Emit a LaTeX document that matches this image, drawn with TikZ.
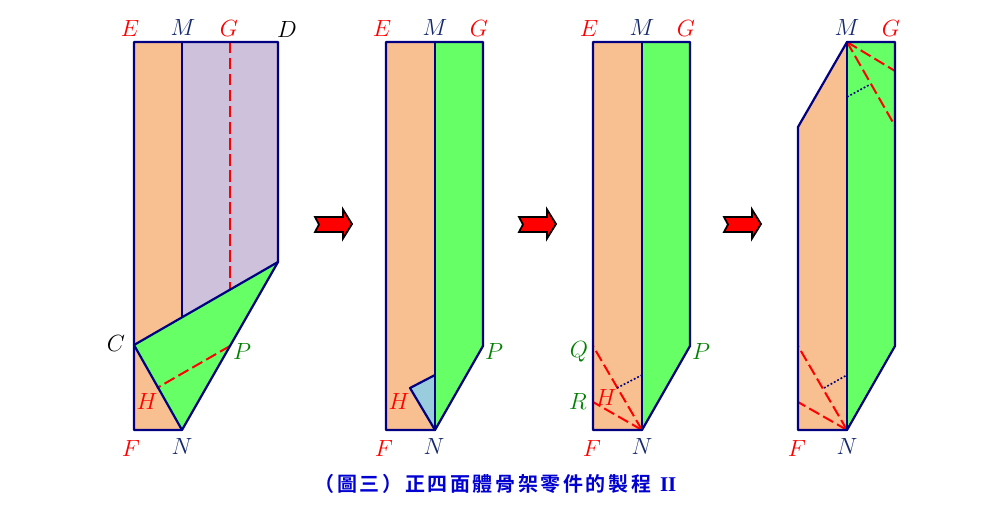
\documentclass[tikz,border=0pt]{standalone}
\usepackage{fontspec}
\usepackage{graphicx}
\newfontfamily\capfont[LetterSpace=13,BoldFont={Noto Sans CJK TC Bold}]{Noto Sans CJK TC}
\newfontfamily\capser{Liberation Serif}
\newcommand\lbl[1]{\scalebox{1.13}{$#1$}}
\definecolor{orfill}{HTML}{F8C090}
\definecolor{pufill}{HTML}{CDC1DC}
\definecolor{grfill}{HTML}{66FF66}
\definecolor{blfill}{HTML}{99CCDD}
\definecolor{navyl}{HTML}{000080}
\definecolor{labnavy}{HTML}{14286E}
\definecolor{labgreen}{HTML}{008000}
\definecolor{capblue}{HTML}{0000D0}
\tikzset{
  edgeline/.style={draw=navyl,line width=2.2pt,line join=round,line cap=round},
  foldline/.style={draw=red,line width=2pt,dash pattern=on 11.5pt off 4.5pt},
  hidline/.style={draw=navyl,line width=1.6pt,dash pattern=on 1.8pt off 2pt},
  lab/.style={inner sep=0pt,font=\fontsize{20}{24}\selectfont},
  labred/.style={lab,text=red},
  labblue/.style={lab,text=labnavy},
  labblack/.style={lab,text=black},
  labgr/.style={lab,text=labgreen},
  blockarrow/.style={draw=black,fill=red,line width=1.8pt,line join=miter}
}
\begin{document}
\begin{tikzpicture}[x=1pt,y=-1pt]
\useasboundingbox (0,0) rectangle (1000,508);
% ---- panel 1
\coordinate (aE) at (134,42); \coordinate (aM) at (182,42); \coordinate (aG) at (230,42); \coordinate (aD) at (278,42);
\coordinate (aF) at (134,430); \coordinate (aN) at (182,430); \coordinate (aC) at (134,345);
\coordinate (aK) at (278,262); \coordinate (aL) at (182,317); \coordinate (aP) at (230,346);
\coordinate (aH) at (157,388); \coordinate (aT) at (230,290);
\fill[orfill] (aE)--(aM)--(aL)--(aC)--cycle;
\fill[orfill] (aC)--(aN)--(aF)--cycle;
\fill[pufill] (aM)--(aD)--(aK)--(aL)--cycle;
\fill[grfill] (aC)--(aK)--(aN)--cycle;
\draw[foldline] (aG)--(aT);
\draw[foldline] (aP)--(aH);
\draw[edgeline] (aE)--(aD)--(aK)--(aN)--(aF)--cycle;
\draw[edgeline] (aM)--(aL);
\draw[edgeline] (aC)--(aK);
\draw[edgeline] (aC)--(aN);
\node[labred] at (130,28) {\lbl{E}};
\node[labblue] at (183,27) {\lbl{M}};
\node[labred] at (229,28) {\lbl{G}};
\node[labblack] at (287,29) {\lbl{D}};
\node[labblack] at (116,343) {\lbl{C}};
\node[labgr] at (242,351) {\lbl{P}};
\node[labred] at (147,401) {\lbl{H}};
\node[labred] at (131,448) {\lbl{F}};
\node[labblue] at (182,446) {\lbl{N}};
% ---- panel 2
\coordinate (bE) at (386,42); \coordinate (bM) at (435,42); \coordinate (bG) at (483,42);
\coordinate (bP) at (483,346); \coordinate (bN) at (435,430); \coordinate (bF) at (386,430);
\coordinate (bH) at (410,388); \coordinate (bT) at (435,375);
\fill[orfill] (bE)--(bM)--(bN)--(bF)--cycle;
\fill[grfill] (bM)--(bG)--(bP)--(bN)--cycle;
\fill[blfill] (bH)--(bT)--(bN)--cycle;
\draw[edgeline] (bE)--(bG)--(bP)--(bN)--(bF)--cycle;
\draw[edgeline] (bM)--(bN);
\draw[edgeline] (bT)--(bH)--(bN);
\node[labred] at (382,28) {\lbl{E}};
\node[labblue] at (435,27) {\lbl{M}};
\node[labred] at (479,28) {\lbl{G}};
\node[labgr] at (494,351) {\lbl{P}};
\node[labred] at (399,401) {\lbl{H}};
\node[labred] at (384,448) {\lbl{F}};
\node[labblue] at (434,446) {\lbl{N}};
% ---- panel 3
\coordinate (cE) at (593,42); \coordinate (cM) at (642,42); \coordinate (cG) at (690,42);
\coordinate (cP) at (690,346); \coordinate (cN) at (642,430); \coordinate (cF) at (593,430);
\coordinate (cQ) at (593,346); \coordinate (cR) at (593,402);
\coordinate (cH) at (617,388); \coordinate (cT) at (642,375);
\fill[orfill] (cE)--(cM)--(cN)--(cF)--cycle;
\fill[grfill] (cM)--(cG)--(cP)--(cN)--cycle;
\draw[foldline] (cN)--(cQ);
\draw[foldline] (cN)--(cR);
\draw[hidline] (cH)--(cT);
\draw[edgeline] (cE)--(cG)--(cP)--(cN)--(cF)--cycle;
\draw[edgeline] (cM)--(cN);
\node[labred] at (589,28) {\lbl{E}};
\node[labblue] at (642,27) {\lbl{M}};
\node[labred] at (686,28) {\lbl{G}};
\node[labgr] at (701,351) {\lbl{P}};
\node[labgr] at (579,352) {\lbl{Q}};
\node[labgr] at (578,401) {\lbl{R}};
\node[labred] at (606,397) {\lbl{H}};
\node[labred] at (592,448) {\lbl{F}};
\node[labblue] at (642,446) {\lbl{N}};
% ---- panel 4
\coordinate (dM) at (847,42); \coordinate (dG) at (895,42); \coordinate (dA) at (798,127);
\coordinate (dF) at (798,430); \coordinate (dN) at (847,430); \coordinate (dP) at (895,346);
\coordinate (dU) at (895,71); \coordinate (dV) at (895,126);
\coordinate (dW) at (847,97); \coordinate (dX) at (869,85);
\coordinate (dQ) at (798,346); \coordinate (dR) at (798,402);
\coordinate (dH) at (824,388); \coordinate (dT) at (847,375);
\fill[orfill] (dM)--(dN)--(dF)--(dA)--cycle;
\fill[grfill] (dM)--(dG)--(dP)--(dN)--cycle;
\draw[foldline] (dM)--(dU);
\draw[foldline] (dM)--(dV);
\draw[foldline] (dN)--(dQ);
\draw[foldline] (dN)--(dR);
\draw[hidline] (dW)--(dX);
\draw[hidline] (dH)--(dT);
\draw[edgeline] (dM)--(dG)--(dP)--(dN)--(dF)--(dA)--cycle;
\draw[edgeline] (dM)--(dN);
\node[labblue] at (847,27) {\lbl{M}};
\node[labred] at (891,28) {\lbl{G}};
\node[labred] at (797,448) {\lbl{F}};
\node[labblue] at (847,446) {\lbl{N}};
% ---- arrows
\foreach \ox in {0,204,409}{
  \begin{scope}[xshift=\ox pt]
  \draw[blockarrow] (315,217)--(343,217)--(343,209.5)--(352,224)--(343,238.5)--(343,232)--(315,232)--(319,224.5)--cycle;
  \end{scope}
}
% ---- caption
\node[inner sep=0pt,text=capblue,anchor=base] (cap) at (495.5,491.5)
  {\fontsize{20}{24}\selectfont\capfont\bfseries （圖三）正四面體骨架零件的製程\hspace{9pt}{\capser\fontsize{21}{24}\selectfont II}};
\end{tikzpicture}
\end{document}
